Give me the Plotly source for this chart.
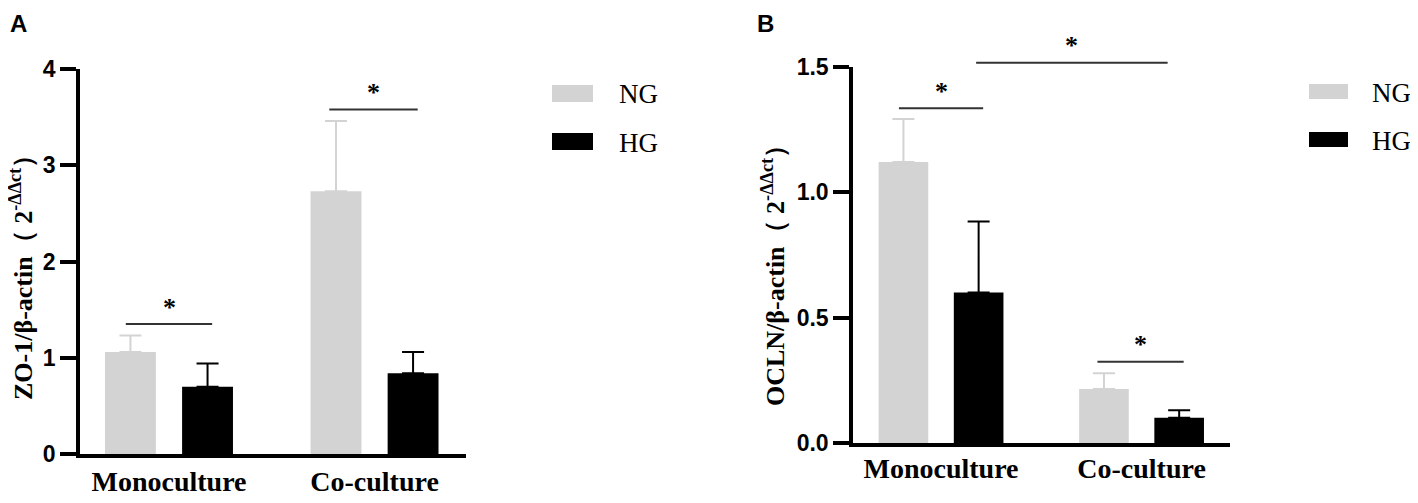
import plotly.graph_objects as go

# ---- data ----
categories = ["Monoculture", "Co-culture"]

zo1_ng = [1.06, 2.73]
zo1_ng_err = [0.17, 0.73]
zo1_hg = [0.70, 0.84]
zo1_hg_err = [0.24, 0.22]

ocln_ng = [1.12, 0.215]
ocln_ng_err = [0.172, 0.063]
ocln_hg = [0.60, 0.101]
ocln_hg_err = [0.283, 0.030]

zo1_ticks = [0, 1, 2, 3, 4]
ocln_ticks = [0.0, 0.5, 1.0, 1.5]

# significance brackets: (x from, x to, height) in category units
zo1_sig = [(-0.21, 0.21, 1.35), (0.78, 1.21, 3.58)]
ocln_sig = [(-0.21, 0.21, 1.334), (0.175, 1.13, 1.516), (0.78, 1.21, 0.324)]

NG_COLOR = "#d3d3d3"
HG_COLOR = "#000000"
PAGE_PAD = 8  # default body margin of the page around the figure
W, H = 1418 - 2 * PAGE_PAD, 503 - 2 * PAGE_PAD
SERIF = "Liberation Serif, Times New Roman, serif"
SANS = "Liberation Sans, Arial, sans-serif"


# positions below are measured in window pixels, converted to paper units
def px(x):
    return max(x - PAGE_PAD, 0) / W


def py(y):
    return 1 - max(y - PAGE_PAD, 0) / H


fig = go.Figure()


def add_bars(xa, ya, ng, ng_err, hg, hg_err):
    for vals, errs, color, name in [(ng, ng_err, NG_COLOR, "NG"), (hg, hg_err, HG_COLOR, "HG")]:
        fig.add_trace(go.Bar(
            x=categories, y=vals, name=name, xaxis=xa, yaxis=ya,
            marker=dict(color=color, line=dict(width=0)),
            error_y=dict(type="data", array=errs, arrayminus=[0] * len(errs),
                         symmetric=False, color=color, thickness=2, width=11),
            showlegend=False,
        ))


add_bars("x", "y", zo1_ng, zo1_ng_err, zo1_hg, zo1_hg_err)
add_bars("x2", "y2", ocln_ng, ocln_ng_err, ocln_hg, ocln_hg_err)

axis_common = dict(showline=True, linecolor="black", linewidth=3.5, showgrid=False,
                   zeroline=False, automargin=False)
xtick_font = dict(family=SERIF, size=28, color="black", weight="bold")
ytick_font = dict(family=SANS, size=23, color="black", weight="bold")

fig.update_layout(
    template="none",
    width=W, height=H,
    margin=dict(l=0, r=0, t=0, b=0, autoexpand=False),
    plot_bgcolor="white", paper_bgcolor="white",
    barmode="group", bargap=0.25, bargroupgap=0.34,
    xaxis=dict(domain=[px(80), px(466)], range=[-0.433, 1.445], anchor="y",
               ticks="", tickfont=xtick_font, ticklabelstandoff=0, **axis_common),
    yaxis=dict(domain=[py(454), py(69)], range=[0, 4], anchor="x",
               tickvals=zo1_ticks, ticks="outside", ticklen=16, tickwidth=3.5,
               tickcolor="black", tickfont=ytick_font, **axis_common),
    xaxis2=dict(domain=[px(853), px(1230)], range=[-0.439, 1.441], anchor="y2",
                ticks="", tickfont=xtick_font, ticklabelstandoff=-2, **axis_common),
    yaxis2=dict(domain=[py(443), py(66.7)], range=[0, 1.5], anchor="x2",
                tickvals=ocln_ticks, tickformat=".1f", ticks="outside", ticklen=16,
                tickwidth=3.5, tickcolor="black", tickfont=ytick_font, **axis_common),
)

# significance lines and stars (y in axis-domain units so brackets above the range still show)
for sigs, xr, yr, top in [(zo1_sig, "x", "y domain", 4), (ocln_sig, "x2", "y2 domain", 1.5)]:
    for x0, x1, h in sigs:
        yd = h / top
        fig.add_shape(type="line", xref=xr, yref=yr, x0=x0, x1=x1, y0=yd, y1=yd,
                      line=dict(color="#333333", width=2))
        fig.add_annotation(xref=xr, yref=yr, x=(x0 + x1) / 2, y=yd, text="*",
                           showarrow=False, yanchor="middle", yshift=17,
                           font=dict(family=SERIF, size=26, color="black", weight="bold"))

# y-axis titles
fig.add_annotation(xref="paper", yref="paper", x=px(21), y=py(271),
                   text="ZO-1/β-actin（ 2<sup>-ΔΔct</sup>）", textangle=-90,
                   showarrow=False, xanchor="center", yanchor="middle",
                   font=dict(family=SERIF, size=26, color="black", weight="bold"))
fig.add_annotation(xref="paper", yref="paper", x=px(773), y=py(269),
                   text="OCLN/β-actin（ 2<sup>-ΔΔct</sup>）", textangle=-90,
                   showarrow=False, xanchor="center", yanchor="middle",
                   font=dict(family=SERIF, size=26, color="black", weight="bold"))

# panel letters
for letter, x in [("A", 0), ("B", 755)]:
    fig.add_annotation(xref="paper", yref="paper", x=px(x), y=py(5), text=letter,
                       showarrow=False, xanchor="left", yanchor="top",
                       font=dict(family=SANS, size=24, color="black", weight="bold"))

# legends drawn by hand
legend_boxes = [
    (552, 593, [(85, 102), (133, 150)], 617),
    (1309, 1348, [(84, 99), (132, 147)], 1370),
]
for x0, x1, rows, tx in legend_boxes:
    for (y0, y1), color, name in zip(rows, [NG_COLOR, HG_COLOR], ["NG", "HG"]):
        fig.add_shape(type="rect", xref="paper", yref="paper",
                      x0=px(x0), x1=px(x1), y0=py(y1), y1=py(y0),
                      fillcolor=color, line=dict(width=0))
        fig.add_annotation(xref="paper", yref="paper", x=px(tx), y=py((y0 + y1) / 2 + 1),
                           text=name, showarrow=False, xanchor="left", yanchor="middle",
                           font=dict(family=SERIF, size=27, color="black"))

fig.write_html("out.html")
